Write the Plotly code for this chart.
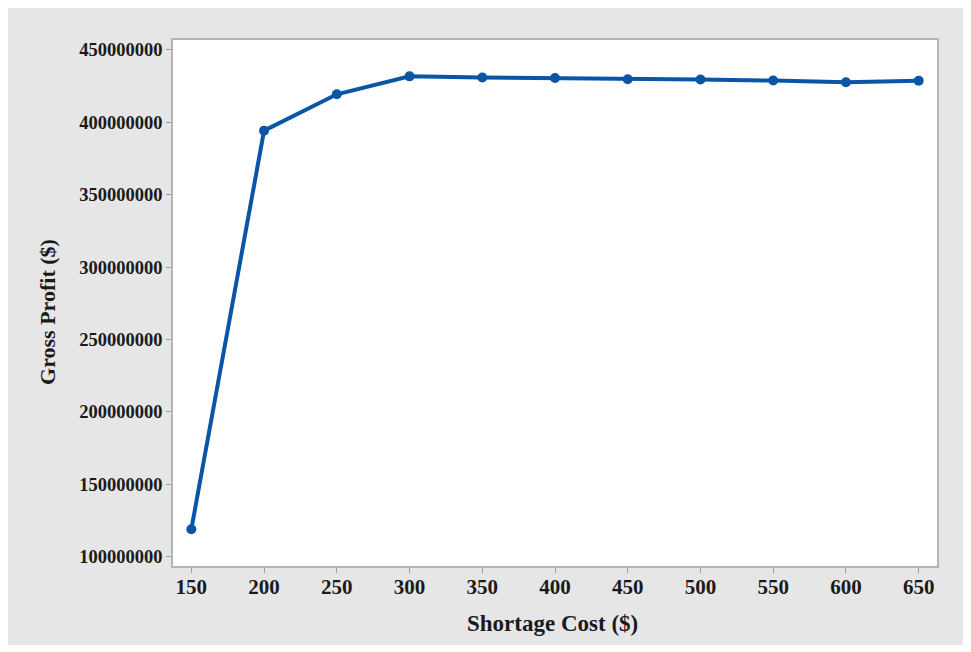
import plotly.graph_objects as go

shortage_cost = [150, 200, 250, 300, 350, 400, 450, 500, 550, 600, 650]
gross_profit = [119.0e6, 394.3e6, 419.4e6, 431.8e6, 431.0e6, 430.7e6, 429.8e6, 429.6e6, 428.9e6, 427.7e6, 428.8e6]
y_ticks = [100000000, 150000000, 200000000, 250000000, 300000000, 350000000, 400000000, 450000000]
x_ticks = [150, 200, 250, 300, 350, 400, 450, 500, 550, 600, 650]

W, H = 971, 652
OFF = 8  # page offset of the figure (body margin)
# target page-pixel positions of the plot area
PL, PR, PT, PB = 173, 936.7, 40, 566
L = PL - OFF
T = PT - OFF
R = W - (PR - OFF)
B = H - (PB - OFF)
pw = W - L - R
ph = H - T - B

def px(x):  # page pixel -> paper x
    return (x - OFF - L) / pw

def py(y):  # page pixel -> paper y
    return (H - B - (y - OFF)) / ph

fig = go.Figure()
fig.add_trace(go.Scatter(
    x=shortage_cost, y=gross_profit, mode="lines+markers",
    line=dict(color="#0b55a6", width=4),
    marker=dict(color="#0b55a6", size=10),
    showlegend=False,
))

axis_common = dict(
    showgrid=False, zeroline=False, showline=True, mirror=True,
    linecolor="#b4b4b4", linewidth=1.5,
    ticks="outside", ticklen=5, tickwidth=1, tickcolor="#9a9a9a",
)

fig.update_xaxes(
    range=[137.4, 662.6], tickvals=x_ticks,
    ticktext=["<b>%d</b>" % v for v in x_ticks],
    tickfont=dict(family="Liberation Serif", size=21, color="#1a1a1a"),
    ticklabelstandoff=-4,
    **axis_common,
)
fig.update_yaxes(
    range=[93.6e6, 456.9e6], tickvals=y_ticks,
    ticktext=["<b>%d</b>" % v for v in y_ticks],
    tickfont=dict(family="Liberation Serif", size=18.5, color="#1a1a1a"),
    **axis_common,
)

fig.update_layout(
    width=W, height=H,
    margin=dict(l=L, r=R, t=T, b=B),
    paper_bgcolor="white", plot_bgcolor="white",
    font=dict(family="Liberation Serif", color="#1a1a1a"),
    shapes=[
        dict(type="rect", xref="paper", yref="paper",
             x0=px(7), x1=px(963), y0=py(645), y1=py(7),
             fillcolor="#e6e6e6", line=dict(width=0), layer="below"),
        dict(type="rect", xref="paper", yref="paper",
             x0=0, x1=1, y0=0, y1=1,
             fillcolor="white", line=dict(width=0), layer="below"),
    ],
    annotations=[
        dict(text="<b>Shortage Cost ($)</b>", xref="paper", yref="paper",
             x=px(552.5), y=py(623), showarrow=False,
             font=dict(family="Liberation Serif", size=23, color="#1a1a1a"),
             xanchor="center", yanchor="middle"),
        dict(text="<b>Gross Profit ($)</b>", xref="paper", yref="paper",
             x=px(47), y=py(312), showarrow=False, textangle=-90,
             font=dict(family="Liberation Serif", size=22, color="#1a1a1a"),
             xanchor="center", yanchor="middle"),
    ],
)

fig.write_html("out.html")
